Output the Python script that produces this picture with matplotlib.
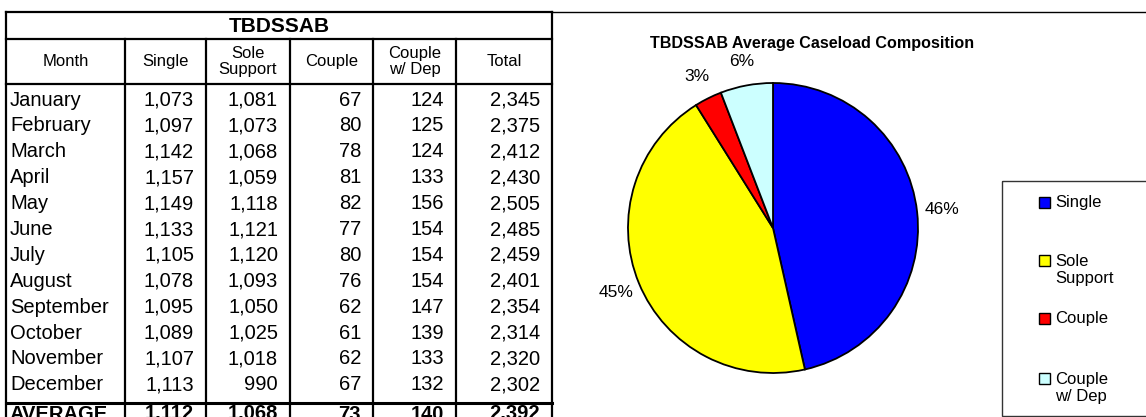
import matplotlib
matplotlib.use("Agg")
import matplotlib.pyplot as plt
from matplotlib.patches import Rectangle

plt.rcParams['font.family'] = ['Liberation Sans', 'DejaVu Sans']

# table data
months = ['January', 'February', 'March', 'April', 'May', 'June', 'July',
          'August', 'September', 'October', 'November', 'December']
single = [1073, 1097, 1142, 1157, 1149, 1133, 1105, 1078, 1095, 1089, 1107, 1113]
sole = [1081, 1073, 1068, 1059, 1118, 1121, 1120, 1093, 1050, 1025, 1018, 990]
couple = [67, 80, 78, 81, 82, 77, 80, 76, 62, 61, 62, 67]
couple_dep = [124, 125, 124, 133, 156, 154, 154, 154, 147, 139, 133, 132]
total = [2345, 2375, 2412, 2430, 2505, 2485, 2459, 2401, 2354, 2314, 2320, 2302]
average = [1112, 1068, 73, 140, 2392]

headers = ['Month', 'Single', 'Sole\nSupport', 'Couple', 'Couple\nw/ Dep', 'Total']
categories = ['Single', 'Sole\nSupport', 'Couple', 'Couple\nw/ Dep']
colors = ['#0000FF', '#FFFF00', '#FF0000', '#CCFFFF']

W, H = 1146, 417
fig = plt.figure(figsize=(W / 100, H / 100), dpi=100)
ax = fig.add_axes([0, 0, 1, 1])
ax.set_xlim(0, W)
ax.set_ylim(H, 0)
ax.axis('off')

# grid of the table (pixel coords)
cols = [6, 125, 206, 290, 373, 456, 552]
top, title_bot, head_bot, avg_line = 12, 39, 84, 403
row_h = 25.9
lw = 1.6

for y in [top, title_bot, head_bot]:
    ax.plot([cols[0], cols[-1]], [y, y], color='black', lw=lw, solid_capstyle='projecting')
ax.plot([cols[0], cols[-1]], [avg_line, avg_line], color='black', lw=2.2)
ax.plot([cols[0], cols[0]], [top, H], color='black', lw=lw)
ax.plot([cols[-1], cols[-1]], [top, H], color='black', lw=lw)
for x in cols[1:-1]:
    ax.plot([x, x], [title_bot, H], color='black', lw=lw)

# chart area frame
ax.plot([cols[-1], W], [top, top], color='black', lw=1.0)

ax.text((cols[0] + cols[-1]) / 2, 26, 'TBDSSAB', ha='center', va='center',
        fontsize=15, fontweight='bold')

for i, h in enumerate(headers):
    ax.text((cols[i] + cols[i + 1]) / 2, 61.5, h, ha='center', va='center',
            fontsize=12, linespacing=1.05)

fs = 14.5
for r, m in enumerate(months):
    base = 105.5 + r * row_h
    ax.text(10, base, m, ha='left', va='baseline', fontsize=fs)
    vals = [single[r], sole[r], couple[r], couple_dep[r], total[r]]
    for c, v in enumerate(vals):
        ax.text(cols[c + 2] - 12, base, f'{v:,}', ha='right', va='baseline', fontsize=fs)

base = 419.5
ax.text(9, base, 'AVERAGE', ha='left', va='baseline', fontsize=fs, fontweight='bold')
for c, v in enumerate(average):
    ax.text(cols[c + 2] - 12, base, f'{v:,}', ha='right', va='baseline',
            fontsize=fs, fontweight='bold')

# pie chart
ax.text(812, 48, 'TBDSSAB Average Caseload Composition', ha='center', va='baseline',
        fontsize=11.6, fontweight='bold')

cx, cy, r = 773, 228, 145
half = r * 1.25
pax = fig.add_axes([(cx - half) / W, (H - cy - half) / H, 2 * half / W, 2 * half / H])
pax.pie(average[:4], colors=colors, startangle=90, counterclock=False,
        wedgeprops=dict(edgecolor='black', linewidth=1.3),
        autopct='%.0f%%', pctdistance=1.17, textprops=dict(fontsize=12.5))

# legend
ax.add_patch(Rectangle((1002, 181), 160, 235, fill=False, edgecolor='#333333', lw=1.0))
leg_y = [202, 270, 318, 388]
for lab, col, y in zip(categories, colors, leg_y):
    first = y - 10 if '\n' in lab else y
    ax.add_patch(Rectangle((1039, first - 5.5), 11, 11, facecolor=col,
                           edgecolor='black', lw=1.0))
    ax.text(1055, y, lab, ha='left', va='center', fontsize=12, linespacing=1.15)

fig.savefig('out.png', dpi=100)
